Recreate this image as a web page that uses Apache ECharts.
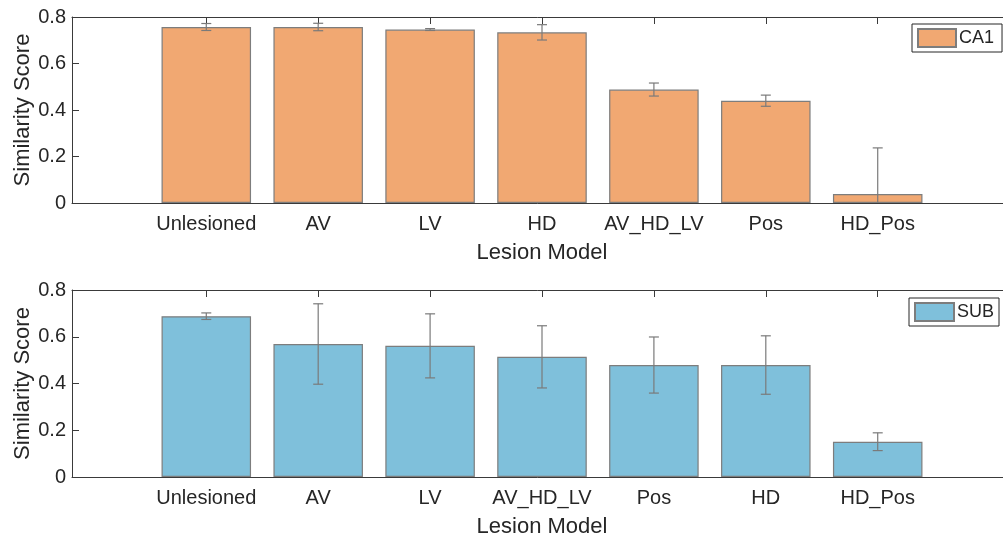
<!DOCTYPE html>
<html>
<head>
<meta charset="utf-8">
<script src="https://cdn.jsdelivr.net/npm/echarts@6/dist/echarts.min.js"></script>
<style>
html,body{margin:0;padding:0;background:#fff;}
#chart{width:1003px;height:536px;}
</style>
</head>
<body>
<div id="chart"></div>
<script>
// ---- data ----
const categoriesCA1 = ['Unlesioned', 'AV', 'LV', 'HD', 'AV_HD_LV', 'Pos', 'HD_Pos'];
const valuesCA1 = [0.757, 0.757, 0.746, 0.734, 0.488, 0.440, 0.039];
const errorsCA1 = [0.015, 0.016, 0.004, 0.033, 0.028, 0.024, 0.198];

const categoriesSUB = ['Unlesioned', 'AV', 'LV', 'AV_HD_LV', 'Pos', 'HD', 'HD_Pos'];
const valuesSUB = [0.688, 0.569, 0.561, 0.514, 0.479, 0.479, 0.151];
const errorsSUB = [0.014, 0.172, 0.137, 0.133, 0.120, 0.125, 0.038];

const yTicks = [0, 0.2, 0.4, 0.6, 0.8];

// ---- styling ----
const FONT = 'Liberation Sans, Arial, Helvetica, sans-serif';
const TXT = '#262626';
const AX = '#3a3a3a';
const positions = categoriesCA1.map((_, i) => i + 1);

function xAxes(gridIndex, cats) {
  return [
    {
      gridIndex, type: 'value', position: 'bottom', min: -0.2, max: 8.2,
      axisLine: { show: true, onZero: false, lineStyle: { color: AX, width: 1 } },
      axisTick: { show: true, inside: true, length: 7, customValues: positions, lineStyle: { color: AX } },
      axisLabel: {
        show: true, customValues: positions, margin: 11,
        fontFamily: FONT, fontSize: 20, color: TXT,
        formatter: v => cats[Math.round(v) - 1] || ''
      },
      splitLine: { show: false },
      name: 'Lesion Model', nameLocation: 'middle', nameGap: 39,
      nameTextStyle: { fontFamily: FONT, fontSize: 22, color: TXT }
    },
    {
      gridIndex, type: 'value', position: 'top', min: -0.2, max: 8.2,
      axisLine: { show: true, onZero: false, lineStyle: { color: AX, width: 1 } },
      axisTick: { show: true, inside: true, length: 7, customValues: positions, lineStyle: { color: AX } },
      axisLabel: { show: false },
      splitLine: { show: false }
    }
  ];
}

function yAxes(gridIndex) {
  return [
    {
      gridIndex, type: 'value', position: 'left', min: 0, max: 0.8, interval: 0.2,
      axisLine: { show: true, onZero: false, lineStyle: { color: AX, width: 1 } },
      axisTick: { show: true, inside: true, length: 7, lineStyle: { color: AX } },
      axisLabel: { fontFamily: FONT, fontSize: 20, color: TXT, margin: 6 },
      splitLine: { show: false },
      name: 'Similarity Score', nameLocation: 'middle', nameGap: 38, nameRotate: 90,
      nameMoveOverlap: false,
      nameTextStyle: { fontFamily: FONT, fontSize: 22, color: TXT }
    },
    {
      gridIndex, type: 'value', position: 'right', min: 0, max: 0.8, interval: 0.2,
      axisLine: { show: true, onZero: false, lineStyle: { color: AX, width: 1 } },
      axisTick: { show: true, inside: true, length: 7, lineStyle: { color: AX } },
      axisLabel: { show: false },
      splitLine: { show: false }
    }
  ];
}

function errorSeries(name, xIdx, yIdx, vals, errs) {
  return {
    name: name + ' err', type: 'custom', xAxisIndex: xIdx, yAxisIndex: yIdx,
    clip: true, z: 5, silent: true,
    data: vals.map((v, i) => [i + 1, v, errs[i]]),
    renderItem: function (params, api) {
      const x = api.value(0), y = api.value(1), e = api.value(2);
      const top = api.coord([x, y + e]);
      const bot = api.coord([x, y - e]);
      const hw = 5;
      const st = { stroke: '#7a7a7a', lineWidth: 1.2 };
      return {
        type: 'group',
        children: [
          { type: 'line', shape: { x1: top[0], y1: top[1], x2: bot[0], y2: bot[1] }, style: st },
          { type: 'line', shape: { x1: top[0] - hw, y1: top[1], x2: top[0] + hw, y2: top[1] }, style: st },
          { type: 'line', shape: { x1: bot[0] - hw, y1: bot[1], x2: bot[0] + hw, y2: bot[1] }, style: st }
        ]
      };
    }
  };
}

const chart = echarts.init(document.getElementById('chart'), null, { renderer: 'canvas' });

const option = {
  animation: false,
  backgroundColor: '#ffffff',
  grid: [
    { left: 72, width: 940, top: 17, height: 186, outerBoundsMode: 'none', containLabel: false },
    { left: 72, width: 940, top: 290, height: 187, outerBoundsMode: 'none', containLabel: false }
  ],
  xAxis: [...xAxes(0, categoriesCA1), ...xAxes(1, categoriesSUB)],
  yAxis: [...yAxes(0), ...yAxes(1)],
  legend: [
    {
      data: [{ name: 'CA1', icon: 'rect' }], left: 912, top: 24, orient: 'vertical',
      itemWidth: 38, itemHeight: 18, padding: [4, 8, 4, 5],
      borderColor: '#262626', borderWidth: 1, backgroundColor: '#fff',
      textStyle: { fontFamily: FONT, fontSize: 18, color: TXT, padding: [0, 0, 0, -2] }
    },
    {
      data: [{ name: 'SUB', icon: 'rect' }], left: 909, top: 298, orient: 'vertical',
      itemWidth: 39, itemHeight: 18, padding: [4, 5, 4, 5],
      borderColor: '#262626', borderWidth: 1, backgroundColor: '#fff',
      textStyle: { fontFamily: FONT, fontSize: 18, color: TXT, padding: [0, 0, 0, -2] }
    }
  ],
  series: [
    {
      name: 'CA1', type: 'bar', xAxisIndex: 0, yAxisIndex: 0, barWidth: '80%',
      data: valuesCA1.map((v, i) => [i + 1, v]),
      itemStyle: { color: '#F1A872', borderColor: '#7d7d7d', borderWidth: 1.2 }
    },
    errorSeries('CA1', 0, 0, valuesCA1, errorsCA1),
    {
      name: 'SUB', type: 'bar', xAxisIndex: 2, yAxisIndex: 2, barWidth: '80%',
      data: valuesSUB.map((v, i) => [i + 1, v]),
      itemStyle: { color: '#7FC0DB', borderColor: '#7d7d7d', borderWidth: 1.2 }
    },
    errorSeries('SUB', 2, 2, valuesSUB, errorsSUB)
  ]
};
chart.setOption(option);
</script>
</body>
</html>
